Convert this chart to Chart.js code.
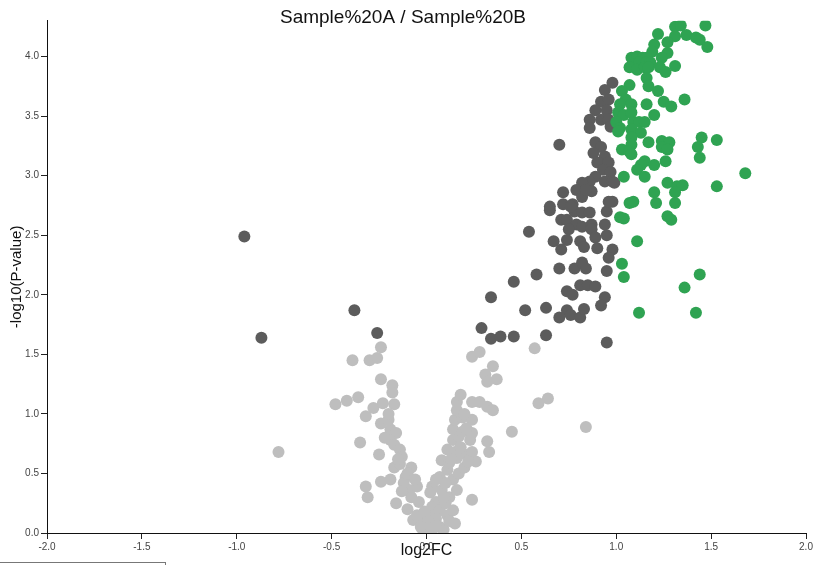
<!DOCTYPE html>
<html>
<head>
<meta charset="utf-8">
<script src="https://cdn.jsdelivr.net/npm/chart.js@4.4.0/dist/chart.umd.min.js"></script>
<style>
  body { margin: 0; background: #fff; }
  #wrap { position: relative; width: 815px; height: 565px; overflow: hidden; }
  #box { position: absolute; left: -1px; top: 562px; width: 165px; height: 10px; border: 1px solid #777; }
</style>
</head>
<body>
<div id="wrap"><canvas id="volcano"></canvas><div id="box"></div></div>
<script>
// [log2FC, -log10(p)]
const notSignificant = [
  [-0.78, 0.68], [-0.48, 1.08], [-0.42, 1.11], [-0.36, 1.14], [-0.39, 1.45], [-0.30, 1.45],
  [-0.26, 1.47], [-0.24, 1.56], [-0.24, 1.29], [-0.18, 1.24], [-0.18, 1.18], [-0.32, 0.98],
  [-0.28, 1.05], [-0.23, 1.09], [-0.17, 1.08], [-0.24, 0.92], [-0.19, 0.87], [-0.16, 0.84],
  [-0.35, 0.76], [-0.25, 0.66], [-0.19, 0.78], [-0.17, 0.74], [-0.14, 0.70], [-0.13, 0.64],
  [-0.17, 0.55], [-0.08, 0.55], [-0.11, 0.47], [-0.24, 0.43], [-0.19, 0.45], [-0.32, 0.39],
  [-0.31, 0.30], [-0.16, 0.25], [-0.12, 0.42], [-0.09, 0.36], [-0.05, 0.39], [-0.08, 0.30],
  [-0.04, 0.26], [0.03, 0.39], [0.02, 0.34], [0.05, 0.26], [0.03, 0.22], [-0.07, 0.11],
  [-0.04, 0.13], [0.00, 0.08], [-0.02, 0.03], [0.03, 0.03], [0.07, 0.05], [0.09, 0.03],
  [0.15, 0.08], [0.11, 0.15], [0.14, 0.19], [0.07, 0.19], [0.12, 0.30], [0.16, 0.36],
  [0.08, 0.36], [0.07, 0.47], [0.11, 0.53], [0.14, 0.45], [0.17, 0.50], [0.20, 0.55],
  [0.24, 0.28], [0.08, 0.61], [0.12, 0.59], [0.16, 0.63], [0.11, 0.70], [0.15, 0.68],
  [0.19, 0.67], [0.24, 0.68], [0.26, 0.60], [0.14, 0.78], [0.17, 0.81], [0.23, 0.78],
  [0.14, 0.87], [0.19, 0.85], [0.24, 0.84], [0.15, 0.95], [0.19, 0.97], [0.24, 0.95],
  [0.16, 1.03], [0.16, 1.10], [0.18, 1.16], [0.24, 1.10], [0.28, 1.10], [0.32, 1.06],
  [0.35, 1.03], [0.32, 0.77], [0.33, 0.68], [0.31, 1.33], [0.32, 1.27], [0.37, 1.29],
  [0.24, 1.48], [0.28, 1.52], [0.35, 1.40], [-0.05, 0.15], [0.02, 0.15], [-0.10, 0.20],
  [0.05, 0.12], [0.10, 0.25], [-0.01, 0.18], [0.01, 0.10], [0.59, 1.09], [0.64, 1.13],
  [0.84, 0.89], [0.45, 0.85], [0.57, 1.55], [-0.22, 0.80], [-0.20, 0.95], [-0.14, 0.58],
  [-0.10, 0.50], [-0.06, 0.45], [-0.13, 0.35], [-0.20, 1.00], [-0.15, 0.62], [0.10, 0.42],
  [0.13, 0.62], [0.18, 0.72], [0.21, 0.88], [0.20, 1.00], [0.22, 0.60], [0.05, 0.45],
  [0.09, 0.30], [-0.03, 0.05], [0.05, 0.06], [0.12, 0.10]
];

const significant = [
  [-0.96, 2.49], [-0.87, 1.64], [-0.38, 1.87], [-0.26, 1.68], [0.29, 1.72], [0.34, 1.63],
  [0.39, 1.65], [0.46, 1.65], [0.34, 1.98], [0.52, 1.87], [0.63, 1.89], [0.63, 1.66],
  [0.46, 2.11], [0.58, 2.17], [0.54, 2.53], [0.65, 2.71], [0.70, 2.22], [0.78, 2.22],
  [0.82, 2.27], [0.84, 2.22], [0.95, 2.20], [0.74, 2.03], [0.77, 2.00], [0.81, 2.08],
  [0.85, 2.08], [0.89, 2.07], [0.94, 1.98], [0.92, 1.91], [0.74, 1.87], [0.76, 1.83],
  [0.70, 1.81], [0.81, 1.81], [0.83, 1.88], [0.95, 1.60], [0.72, 2.76], [0.77, 2.76],
  [0.78, 2.70], [0.82, 2.69], [0.86, 2.69], [0.71, 2.63], [0.74, 2.63], [0.79, 2.59],
  [0.82, 2.57], [0.87, 2.59], [0.75, 2.55], [0.87, 2.55], [0.94, 2.59], [0.95, 2.50],
  [0.67, 2.45], [0.74, 2.46], [0.71, 2.38], [0.81, 2.45], [0.83, 2.40], [0.89, 2.48],
  [0.90, 2.39], [0.98, 2.38], [0.96, 2.31], [0.65, 2.74], [0.98, 2.78], [0.95, 2.70],
  [0.70, 3.26], [0.98, 3.78], [0.94, 3.72], [0.92, 3.62], [0.89, 3.55], [0.96, 3.64],
  [0.95, 3.55], [0.92, 3.47], [0.96, 3.47], [0.97, 3.41], [0.86, 3.47], [0.86, 3.40],
  [0.89, 3.28], [0.92, 3.24], [0.88, 3.19], [0.94, 3.16], [0.90, 3.11], [0.96, 3.11],
  [0.93, 3.05], [0.97, 3.03], [0.89, 2.99], [0.86, 2.95], [0.94, 2.95], [0.98, 2.95],
  [0.82, 2.94], [0.87, 2.87], [0.79, 2.88], [0.72, 2.86], [0.82, 2.82], [0.96, 2.78],
  [0.76, 2.74], [0.84, 2.88], [0.99, 2.94]
];

const upRegulated = [
  [1.31, 4.25], [1.34, 4.26], [1.47, 4.26], [1.22, 4.19], [1.31, 4.17], [1.37, 4.18],
  [1.42, 4.16], [1.44, 4.14], [1.48, 4.08], [1.27, 4.12], [1.20, 4.10], [1.19, 4.04],
  [1.27, 4.03], [1.08, 3.99], [1.11, 4.00], [1.14, 3.99], [1.16, 3.99], [1.09, 3.93],
  [1.12, 3.95], [1.16, 3.95], [1.18, 3.95], [1.07, 3.91], [1.11, 3.89], [1.15, 3.91],
  [1.17, 3.91], [1.24, 3.99], [1.23, 3.91], [1.26, 3.87], [1.31, 3.92], [1.16, 3.82],
  [1.17, 3.75], [1.22, 3.71], [1.07, 3.76], [1.03, 3.71], [1.05, 3.64], [1.08, 3.60],
  [1.16, 3.60], [1.25, 3.62], [1.29, 3.58], [1.36, 3.64], [1.02, 3.60], [1.01, 3.53],
  [1.04, 3.51], [1.08, 3.53], [1.20, 3.51], [1.09, 3.45], [1.12, 3.45], [1.15, 3.45],
  [1.00, 3.45], [1.02, 3.40], [1.08, 3.39], [1.01, 3.37], [1.13, 3.36], [1.08, 3.32],
  [1.17, 3.28], [1.24, 3.29], [1.28, 3.28], [1.24, 3.24], [1.08, 3.26], [1.03, 3.22],
  [1.07, 3.20], [1.27, 3.22], [1.45, 3.32], [1.53, 3.30], [1.43, 3.24], [1.44, 3.15],
  [1.15, 3.12], [1.26, 3.12], [1.08, 3.18], [1.13, 3.09], [1.20, 3.09], [1.11, 3.05],
  [1.04, 2.99], [1.15, 2.99], [1.68, 3.02], [1.53, 2.91], [1.27, 2.94], [1.32, 2.91],
  [1.35, 2.92], [1.20, 2.86], [1.21, 2.77], [1.31, 2.86], [1.31, 2.77], [1.07, 2.77],
  [1.09, 2.78], [1.02, 2.65], [1.04, 2.64], [1.27, 2.66], [1.29, 2.63], [1.11, 2.45],
  [1.03, 2.26], [1.04, 2.15], [1.44, 2.17], [1.36, 2.06], [1.12, 1.85], [1.42, 1.85]
];

const xRange = [-2, 2];
const yRange = [0, 4.3];
const tickStep = 0.5;

const toXY = pts => pts.map(p => ({x: p[0], y: p[1]}));
const fontFamily = '"Liberation Sans", Arial, Helvetica, sans-serif';

const axisStyle = {
  grid: {drawOnChartArea: false, drawTicks: true, tickLength: 6, color: '#222'},
  border: {display: true, color: '#111', width: 1}
};

new Chart(document.getElementById('volcano'), {
  type: 'scatter',
  data: {
    datasets: [
      {label: 'up', data: toXY(upRegulated), backgroundColor: '#2fa352', order: 1},
      {label: 'significant', data: toXY(significant), backgroundColor: '#5c5c5c', order: 2},
      {label: 'ns', data: toXY(notSignificant), backgroundColor: '#bebebe', order: 3}
    ]
  },
  options: {
    responsive: true,
    maintainAspectRatio: false,
    animation: false,
    layout: {padding: {top: 0, right: 9, bottom: 0, left: 0}},
    elements: {point: {radius: 6, hoverRadius: 6, borderWidth: 0}},
    plugins: {
      legend: {display: false},
      tooltip: {enabled: false},
      title: {
        display: true,
        text: 'Sample%20A / Sample%20B',
        color: '#111',
        font: {family: fontFamily, size: 19, weight: 'normal'},
        padding: {top: 6, bottom: -8}
      }
    },
    scales: {
      x: {
        type: 'linear',
        min: xRange[0],
        max: xRange[1],
        ...axisStyle,
        ticks: {
          stepSize: tickStep,
          includeBounds: false,
          color: '#444',
          padding: 2,
          font: {family: fontFamily, size: 10},
          callback: v => v.toFixed(1)
        },
        title: {
          display: true,
          text: 'log2FC',
          color: '#111',
          font: {family: fontFamily, size: 16},
          padding: {top: 0, bottom: 5}
        },
        afterFit: scale => { scale.height = 32; }
      },
      y: {
        type: 'linear',
        min: yRange[0],
        max: yRange[1],
        ...axisStyle,
        ticks: {
          stepSize: tickStep,
          includeBounds: false,
          color: '#444',
          padding: 2,
          font: {family: fontFamily, size: 10},
          callback: v => v.toFixed(1)
        },
        title: {
          display: true,
          text: '-log10(P-value)',
          color: '#111',
          font: {family: fontFamily, size: 15},
          padding: {top: 8, bottom: 0}
        },
        afterFit: scale => { scale.width = 47; }
      }
    }
  }
});
</script>
</body>
</html>
